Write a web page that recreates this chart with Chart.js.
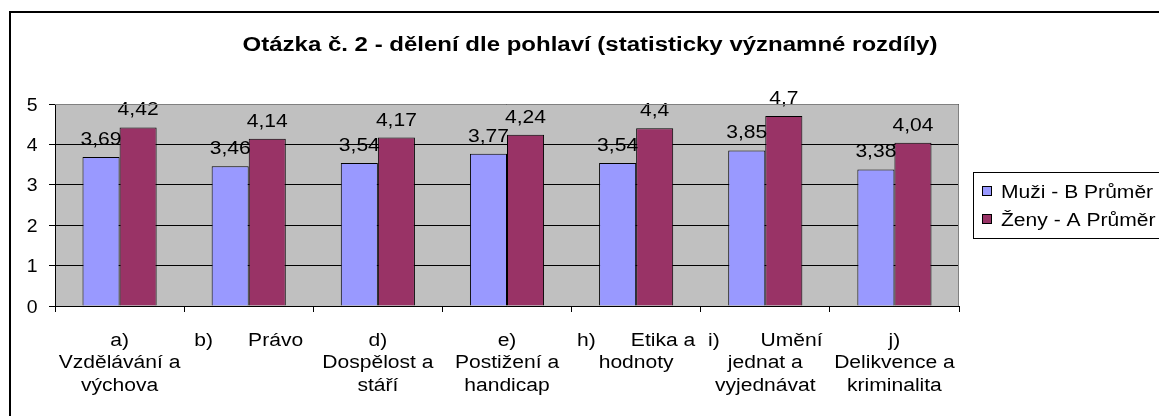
<!DOCTYPE html>
<html>
<head>
<meta charset="utf-8">
<script src="https://cdn.jsdelivr.net/npm/chart.js@4.4.1/dist/chart.umd.min.js"></script>
<style>
html,body{margin:0;padding:0;background:#fff;}
#wrap{width:1159px;height:416px;position:relative;}
</style>
</head>
<body>
<div id="wrap"><canvas id="c" width="1159" height="416"></canvas></div>
<script>
const chartTitle = "Otázka č. 2 - dělení dle pohlaví (statisticky významné rozdíly)";
const categories = [
  ["a)", "Vzdělávání a", "výchova"],
  ["b)      Právo"],
  ["d)", "Dospělost a", "stáří"],
  ["e)", "Postižení a", "handicap"],
  ["h)      Etika a", "hodnoty"],
  ["i)       Umění", "jednat a", "vyjednávat"],
  ["j)", "Delikvence a", "kriminalita"]
];
const seriesNames = ["Muži - B Průměr", "Ženy - A Průměr"];
const muziValues = [3.69, 3.46, 3.54, 3.77, 3.54, 3.85, 3.38];
const zenyValues = [4.42, 4.14, 4.17, 4.24, 4.4, 4.7, 4.04];
const yTicks = [0, 1, 2, 3, 4, 5];
const colors = ["#9999FF", "#993366"];

const FONT = "'Liberation Sans', Arial, sans-serif";
const SX = 1.17;

function stext(ctx, txt, x, y, sx, align) {
  ctx.save();
  ctx.translate(x, y);
  ctx.scale(sx, 1);
  ctx.textAlign = align;
  ctx.fillText(txt, 0, 0);
  ctx.restore();
}

const framePlugin = {
  id: 'frame',
  beforeDraw(chart) {
    const ctx = chart.ctx, a = chart.chartArea;
    ctx.save();
    ctx.fillStyle = '#fff';
    ctx.fillRect(0, 0, chart.width, chart.height);
    ctx.fillStyle = '#C0C0C0';
    ctx.fillRect(a.left, a.top, a.right - a.left, a.bottom - a.top);
    ctx.restore();
  },
  afterDatasetsDraw(chart) {
    const ctx = chart.ctx;
    ctx.save();
    ctx.font = "18px " + FONT;
    ctx.fillStyle = '#000';
    ctx.textBaseline = 'alphabetic';
    chart.data.datasets.forEach((ds, i) => {
      chart.getDatasetMeta(i).data.forEach((bar, j) => {
        const txt = String(ds.data[j]).replace('.', ',');
        stext(ctx, txt, bar.x, bar.y - 12, SX, 'center');
      });
    });
    ctx.restore();
  },
  afterDraw(chart) {
    const ctx = chart.ctx, a = chart.chartArea;
    const xs = chart.scales.x, ys = chart.scales.y;
    ctx.save();
    // plot area border (gray top/right)
    ctx.strokeStyle = '#808080';
    ctx.lineWidth = 1;
    ctx.beginPath();
    ctx.moveTo(a.left, a.top + 0.5);
    ctx.lineTo(a.right - 0.5, a.top + 0.5);
    ctx.lineTo(a.right - 0.5, a.bottom);
    ctx.stroke();
    // outer border
    ctx.strokeStyle = '#000';
    ctx.lineWidth = 2;
    ctx.strokeRect(10, 12, chart.width + 20, chart.height + 20);
    ctx.fillStyle = '#000';
    ctx.textBaseline = 'alphabetic';
    // title
    ctx.font = "bold 20px " + FONT;
    stext(ctx, chartTitle, 590, 51, 1.2, 'center');
    // y tick labels
    ctx.font = "18px " + FONT;
    yTicks.forEach(v => {
      stext(ctx, String(v), 37.5, ys.getPixelForValue(v) + 6.5, 1.08, 'right');
    });
    // x category labels
    categories.forEach((lines, i) => {
      const cx = xs.getPixelForValue(i);
      lines.forEach((ln, k) => {
        stext(ctx, ln, cx, 345.5 + k * 22.5, SX, 'center');
      });
    });
    // legend
    const lx = 973.5, ly = 172.5, lw = 300, lh = 66;
    ctx.fillStyle = '#fff';
    ctx.fillRect(lx, ly, lw, lh);
    ctx.strokeStyle = '#000';
    ctx.lineWidth = 1;
    ctx.strokeRect(lx, ly, lw, lh);
    chart.data.datasets.forEach((ds, i) => {
      const cy = 191 + i * 28;
      ctx.fillStyle = ds.backgroundColor;
      ctx.fillRect(982.5, cy - 4.5, 9, 9);
      ctx.strokeStyle = '#000';
      ctx.strokeRect(982.5, cy - 4.5, 9, 9);
      ctx.fillStyle = '#000';
      stext(ctx, ds.label, 1001, cy + 6.5, SX, 'left');
    });
    ctx.restore();
  }
};

new Chart(document.getElementById('c'), {
  type: 'bar',
  data: {
    labels: categories,
    datasets: [
      { label: seriesNames[0], data: muziValues, backgroundColor: colors[0], borderColor: '#000', borderWidth: 1, categoryPercentage: 0.574, barPercentage: 1 },
      { label: seriesNames[1], data: zenyValues, backgroundColor: colors[1], borderColor: '#000', borderWidth: 1, categoryPercentage: 0.574, barPercentage: 1 }
    ]
  },
  options: {
    responsive: false,
    animation: false,
    devicePixelRatio: 1,
    layout: { padding: { top: 104, right: 200, left: 0, bottom: 0 } },
    plugins: { legend: { display: false }, title: { display: false }, tooltip: { enabled: false } },
    scales: {
      x: {
        grid: { offset: true, drawOnChartArea: false, drawTicks: true, tickLength: 6, color: '#000' },
        border: { color: '#000', width: 1 },
        ticks: { display: false, autoSkip: false },
        afterFit(s) { s.height = 110; }
      },
      y: {
        min: 0, max: 5,
        afterBuildTicks(s) { s.ticks = yTicks.map(v => ({ value: v })); },
        grid: { color: '#000', tickLength: 6, drawTicks: true },
        border: { color: '#000', width: 1 },
        ticks: { display: false },
        afterFit(s) { s.width = 55; }
      }
    }
  },
  plugins: [framePlugin]
});
</script>
</body>
</html>
